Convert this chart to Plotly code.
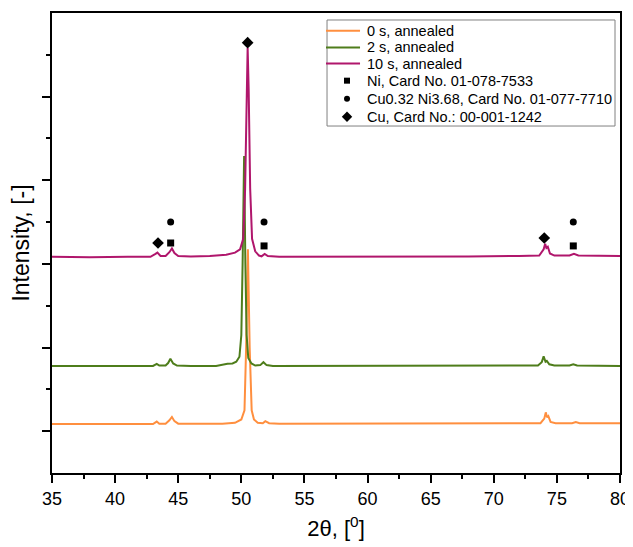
import plotly.graph_objects as go

# ---- data (2theta in degrees, intensity in offset units) ----
x_0s = [35, 38, 41, 43.0, 43.3, 43.5, 44.0, 44.3, 44.5, 44.7, 45.0, 47, 48.5, 49.5, 50.0, 50.25,
        50.38, 50.52, 50.66, 50.82, 51.0, 51.3, 51.7, 51.9, 52.2, 53, 56, 60, 65, 70, 73.7, 74.0,
        74.12, 74.22, 74.32, 74.5, 74.9, 76.2, 76.5, 76.8, 78, 80]
y_0s = [1.17, 1.17, 1.17, 1.17, 1.23, 1.18, 1.18, 1.26, 1.34, 1.24, 1.18, 1.18, 1.18, 1.2, 1.28, 1.5,
        3.0, 5.35, 3.0, 1.5, 1.28, 1.2, 1.19, 1.24, 1.19, 1.18, 1.18, 1.18, 1.18, 1.19, 1.19, 1.3,
        1.45, 1.33, 1.36, 1.22, 1.19, 1.19, 1.22, 1.19, 1.19, 1.19]

x_2s = [35, 38, 41, 43.0, 43.3, 43.5, 44.0, 44.2, 44.38, 44.6, 44.9, 46, 48.0, 48.4, 48.6, 48.9,
        49.3, 49.6, 49.85, 50.0, 50.1, 50.22, 50.32, 50.42, 50.55, 50.8, 51.1, 51.5, 51.75, 52.0,
        52.5, 55, 60, 65, 70, 73.5, 73.8, 73.95, 74.1, 74.2, 74.4, 74.8, 76.0, 76.3, 76.6, 78, 80]
y_2s = [2.56, 2.56, 2.57, 2.56, 2.61, 2.57, 2.57, 2.63, 2.73, 2.62, 2.57, 2.56, 2.56, 2.59, 2.6, 2.61,
        2.62, 2.66, 2.78, 3.3, 5.0, 7.58, 5.0, 3.3, 2.75, 2.62, 2.57, 2.58, 2.65, 2.58,
        2.56, 2.56, 2.56, 2.56, 2.56, 2.57, 2.65, 2.79, 2.66, 2.68, 2.6, 2.57, 2.57, 2.6, 2.57, 2.56, 2.56]

x_10s = [35, 38, 41, 42.8, 43.2, 43.35, 43.6, 44.0, 44.3, 44.5, 44.7, 45.0, 46, 47.5, 48.8, 49.5,
         49.9, 50.15, 50.3, 50.42, 50.5, 50.58, 50.7, 50.85, 51.1, 51.4, 51.6, 51.85, 52.1, 53, 56,
         60, 64, 68, 72, 73.6, 73.95, 74.07, 74.17, 74.28, 74.45, 74.8, 76.0, 76.35, 76.7, 78, 80]
y_10s = [5.17, 5.16, 5.17, 5.17, 5.24, 5.27, 5.19, 5.19, 5.28, 5.37, 5.26, 5.19, 5.18, 5.19, 5.22, 5.27,
         5.35, 5.6, 6.8, 9.2, 10.17, 9.2, 6.8, 5.6, 5.3, 5.2, 5.18, 5.24, 5.19, 5.17, 5.17,
         5.17, 5.18, 5.18, 5.19, 5.2, 5.35, 5.48, 5.38, 5.41, 5.25, 5.2, 5.2, 5.24, 5.2, 5.19, 5.19]

ni_x = [44.4, 51.8, 76.3]
ni_y = [5.50, 5.43, 5.43]
cuni_x = [44.4, 51.8, 76.3]
cuni_y = [6.0, 6.0, 6.0]
cu_x = [43.4, 50.5, 74.0]
cu_y = [5.50, 10.29, 5.62]

series_names = ["0 s, annealed", "2 s, annealed", "10 s, annealed"]
marker_names = ["Ni, Card No. 01-078-7533", "Cu0.32 Ni3.68, Card No. 01-077-7710",
                "Cu, Card No.: 00-001-1242"]
x_tick_vals = [35, 40, 45, 50, 55, 60, 65, 70, 75, 80]

FONT = "Liberation Sans, Arial, sans-serif"
LINE_COLORS = ["#FF8F3F", "#4E7D1B", "#B0166C"]
SYMBOLS = [("square", 6), ("circle", 6), ("diamond", 8)]

fig = go.Figure()
for xs, ys, name, col in zip([x_0s, x_2s, x_10s], [y_0s, y_2s, y_10s], series_names, LINE_COLORS):
    fig.add_trace(go.Scatter(x=xs, y=ys, mode="lines", name=name, showlegend=False,
                             line=dict(color=col, width=2)))

plot_sizes = [7, 7, 9]
for xs, ys, name, (sym, _), sz in zip([ni_x, cuni_x, cu_x], [ni_y, cuni_y, cu_y],
                                       marker_names, SYMBOLS, plot_sizes):
    fig.add_trace(go.Scatter(x=xs, y=ys, mode="markers", name=name, showlegend=False,
                             marker=dict(symbol=sym, size=sz, color="black")))

# ---- hand-drawn legend box (plot-area fraction coordinates) ----
LEG_X0, LEG_X1, LEG_Y0, LEG_Y1 = 0.4842, 0.9912, 0.7543, 0.9848
ROW_Y = [0.9614, 0.9250, 0.8902, 0.8529, 0.8135, 0.7743]
SAMPLE_X0, SAMPLE_X1, SYMBOL_X, TEXT_X = 0.4824, 0.5423, 0.5194, 0.5528

fig.add_shape(type="rect", xref="paper", yref="paper", x0=LEG_X0, x1=LEG_X1, y0=LEG_Y0, y1=LEG_Y1,
              line=dict(color="#808080", width=1), fillcolor="white", layer="below")
labels = series_names + marker_names
for i, col in enumerate(LINE_COLORS):
    fig.add_shape(type="line", xref="paper", yref="paper", x0=SAMPLE_X0, x1=SAMPLE_X1,
                  y0=ROW_Y[i], y1=ROW_Y[i], line=dict(color=col, width=2), layer="above")
for i, txt in enumerate(labels):
    fig.add_annotation(x=TEXT_X, y=ROW_Y[i], xref="paper", yref="paper", text=txt,
                       showarrow=False, xanchor="left", yanchor="middle", borderpad=0,
                       font=dict(size=14.5, family=FONT, color="black"))
for i, (sym, sz) in enumerate(SYMBOLS):
    fig.add_trace(go.Scatter(x=[SYMBOL_X], y=[ROW_Y[3 + i]], xaxis="x2", yaxis="y2",
                             mode="markers", showlegend=False, hoverinfo="skip",
                             marker=dict(symbol=sym, size=sz, color="black")))

# page body adds an 8px offset; the figure is sized so the plot area lands at 52..620 x 13..473
fig.update_layout(
    width=625, height=539,
    margin=dict(l=44, r=13, t=5, b=74),
    paper_bgcolor="white", plot_bgcolor="white",
    font=dict(family=FONT, color="black"),
    showlegend=False,
    xaxis2=dict(overlaying="x", range=[0, 1], visible=False, fixedrange=True),
    yaxis2=dict(overlaying="y", range=[0, 1], visible=False, fixedrange=True),
)
fig.update_layout(xaxis=dict(
    range=[35, 80], tickmode="array", tickvals=x_tick_vals, automargin=False,
    ticks="outside", ticklen=8, tickwidth=2, tickcolor="black",
    showline=True, linewidth=2, linecolor="black", mirror=True,
    showgrid=False, zeroline=False,
    tickfont=dict(size=18, family=FONT),
    minor=dict(tickmode="array", tickvals=[37.5, 42.5, 47.5, 52.5, 57.5, 62.5, 67.5, 72.5, 77.5],
               ticks="outside", ticklen=4, tickwidth=2, tickcolor="black", showgrid=False),
    title=dict(text="2θ, [<sup>0</sup>]", font=dict(size=22, family=FONT), standoff=13),
))
fig.update_layout(yaxis=dict(
    range=[0, 11], tickmode="array", tickvals=[1, 3, 5, 7, 9], automargin=False,
    showticklabels=False,
    ticks="outside", ticklen=8, tickwidth=2, tickcolor="black",
    showline=True, linewidth=2, linecolor="black", mirror=True,
    showgrid=False, zeroline=False,
    minor=dict(tickmode="array", tickvals=[2, 4, 6, 8, 10],
               ticks="outside", ticklen=4, tickwidth=2, tickcolor="black", showgrid=False),
    title=dict(text="Intensity, [-]", font=dict(size=23, family=FONT), standoff=15),
))

fig.write_html("out.html")
